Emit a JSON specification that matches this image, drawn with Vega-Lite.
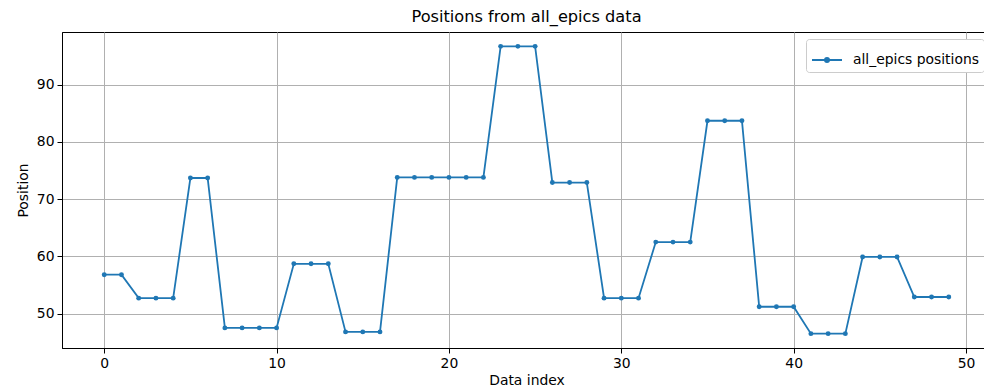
{
  "$schema": "https://vega.github.io/schema/vega-lite/v6.json",
  "autosize": {"type": "none"},
  "padding": {"left": 62, "top": 32, "right": 0, "bottom": 41},
  "width": 929,
  "height": 316,
  "background": "white",
  "title": {"text": "Positions from all_epics data", "font": "DejaVu Sans", "fontSize": 16.2, "fontWeight": "normal", "color": "black", "offset": 7},
  "config": {
    "view": {"stroke": "black", "strokeWidth": 1},
    "axis": {
      "labelFont": "DejaVu Sans", "labelFontSize": 13.9, "labelColor": "black",
      "titleFont": "DejaVu Sans", "titleFontSize": 13.9, "titleFontWeight": "normal", "titleColor": "black",
      "domainColor": "black", "tickColor": "black", "tickSize": 5, "labelPadding": 3,
      "gridColor": "#b0b0b0", "gridWidth": 1
    }
  },
  "data": {"values": [
    {"index": 0, "position": 56.8, "series": "all_epics positions"},
    {"index": 1, "position": 56.8, "series": "all_epics positions"},
    {"index": 2, "position": 52.7, "series": "all_epics positions"},
    {"index": 3, "position": 52.7, "series": "all_epics positions"},
    {"index": 4, "position": 52.7, "series": "all_epics positions"},
    {"index": 5, "position": 73.7, "series": "all_epics positions"},
    {"index": 6, "position": 73.7, "series": "all_epics positions"},
    {"index": 7, "position": 47.5, "series": "all_epics positions"},
    {"index": 8, "position": 47.5, "series": "all_epics positions"},
    {"index": 9, "position": 47.5, "series": "all_epics positions"},
    {"index": 10, "position": 47.5, "series": "all_epics positions"},
    {"index": 11, "position": 58.7, "series": "all_epics positions"},
    {"index": 12, "position": 58.7, "series": "all_epics positions"},
    {"index": 13, "position": 58.7, "series": "all_epics positions"},
    {"index": 14, "position": 46.8, "series": "all_epics positions"},
    {"index": 15, "position": 46.8, "series": "all_epics positions"},
    {"index": 16, "position": 46.8, "series": "all_epics positions"},
    {"index": 17, "position": 73.8, "series": "all_epics positions"},
    {"index": 18, "position": 73.8, "series": "all_epics positions"},
    {"index": 19, "position": 73.8, "series": "all_epics positions"},
    {"index": 20, "position": 73.8, "series": "all_epics positions"},
    {"index": 21, "position": 73.8, "series": "all_epics positions"},
    {"index": 22, "position": 73.8, "series": "all_epics positions"},
    {"index": 23, "position": 96.7, "series": "all_epics positions"},
    {"index": 24, "position": 96.7, "series": "all_epics positions"},
    {"index": 25, "position": 96.7, "series": "all_epics positions"},
    {"index": 26, "position": 72.9, "series": "all_epics positions"},
    {"index": 27, "position": 72.9, "series": "all_epics positions"},
    {"index": 28, "position": 72.9, "series": "all_epics positions"},
    {"index": 29, "position": 52.7, "series": "all_epics positions"},
    {"index": 30, "position": 52.7, "series": "all_epics positions"},
    {"index": 31, "position": 52.7, "series": "all_epics positions"},
    {"index": 32, "position": 62.5, "series": "all_epics positions"},
    {"index": 33, "position": 62.5, "series": "all_epics positions"},
    {"index": 34, "position": 62.5, "series": "all_epics positions"},
    {"index": 35, "position": 83.7, "series": "all_epics positions"},
    {"index": 36, "position": 83.7, "series": "all_epics positions"},
    {"index": 37, "position": 83.7, "series": "all_epics positions"},
    {"index": 38, "position": 51.2, "series": "all_epics positions"},
    {"index": 39, "position": 51.2, "series": "all_epics positions"},
    {"index": 40, "position": 51.2, "series": "all_epics positions"},
    {"index": 41, "position": 46.5, "series": "all_epics positions"},
    {"index": 42, "position": 46.5, "series": "all_epics positions"},
    {"index": 43, "position": 46.5, "series": "all_epics positions"},
    {"index": 44, "position": 59.9, "series": "all_epics positions"},
    {"index": 45, "position": 59.9, "series": "all_epics positions"},
    {"index": 46, "position": 59.9, "series": "all_epics positions"},
    {"index": 47, "position": 52.9, "series": "all_epics positions"},
    {"index": 48, "position": 52.9, "series": "all_epics positions"},
    {"index": 49, "position": 52.9, "series": "all_epics positions"}
  ]},
  "mark": {"type": "line", "strokeWidth": 1.8, "point": {"filled": true, "size": 24, "opacity": 1}},
  "encoding": {
    "x": {"field": "index", "type": "quantitative", "title": "Data index",
      "scale": {"domain": [-2.45, 51.45], "nice": false, "zero": false},
      "axis": {"values": [0, 10, 20, 30, 40, 50], "titlePadding": 4}},
    "y": {"field": "position", "type": "quantitative", "title": "Position",
      "scale": {"domain": [43.99, 99.21], "nice": false, "zero": false},
      "axis": {"values": [50, 60, 70, 80, 90], "titlePadding": 6}},
    "color": {"field": "series", "type": "nominal",
      "scale": {"range": ["#1f77b4"]},
      "legend": {"title": null, "orient": "none", "legendX": 744, "legendY": 7,
        "symbolType": "M-1,0L1,0M0,-0.14A0.14,0.14 0 1 1 0,0.14A0.14,0.14 0 1 1 0,-0.14Z",
        "symbolSize": 900, "symbolStrokeWidth": 1.8, "symbolFillColor": "#1f77b4", "symbolStrokeColor": "#1f77b4",
        "labelFont": "DejaVu Sans", "labelFontSize": 13.9, "labelColor": "black", "labelOffset": 10,
        "padding": 5, "fillColor": "white", "strokeColor": "#cccccc", "cornerRadius": 3}}
  }
}
